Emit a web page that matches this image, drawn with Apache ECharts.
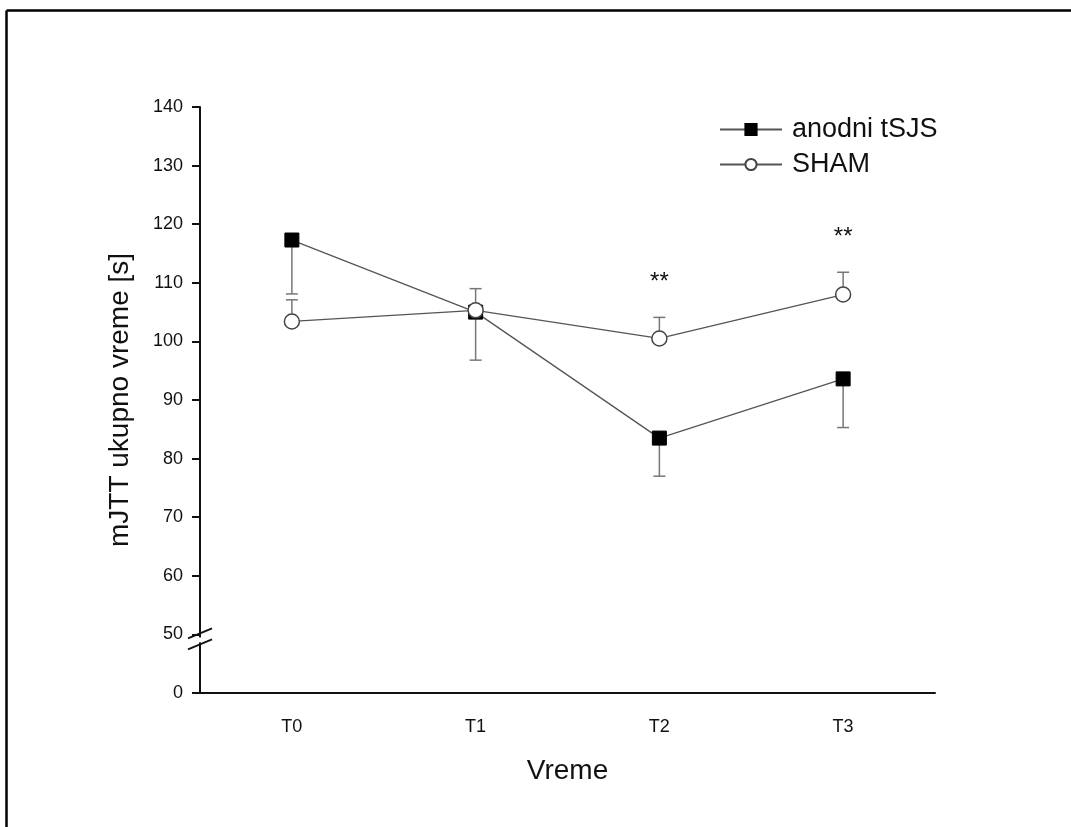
<!DOCTYPE html>
<html>
<head>
<meta charset="utf-8">
<script src="https://cdn.jsdelivr.net/npm/echarts@6/dist/echarts.min.js"></script>
<style>
html,body{margin:0;padding:0;background:#fff;}
#c{width:1071px;height:827px;}
</style>
</head>
<body>
<div id="c"></div>
<script>
const categories = ['T0', 'T1', 'T2', 'T3'];
const anodniMean = [117.3, 105.0, 83.5, 93.6];
const anodniSD = [9.2, 8.2, 6.5, 8.3];
const shamMean = [103.4, 105.3, 100.5, 108.0];
const shamSD = [3.7, 3.7, 3.6, 3.8];
const sigLabels = ['', '', '**', '**'];
const yTickLabels = {40: '0', 50: '50', 60: '60', 70: '70', 80: '80', 90: '90', 100: '100', 110: '110', 120: '120', 130: '130', 140: '140'};

const FONT = '"Liberation Sans", Arial, sans-serif';
const chart = echarts.init(document.getElementById('c'), null, {renderer: 'canvas'});

function errorBar(dir) {
  return function (params, api) {
    const x = api.value(0), y = api.value(1), sd = api.value(2);
    const p0 = api.coord([x, y]);
    const p1 = api.coord([x, y + dir * sd]);
    const half = 6;
    const style = {stroke: '#777', lineWidth: 1.5};
    return {
      type: 'group',
      children: [
        {type: 'line', shape: {x1: p0[0], y1: p0[1], x2: p1[0], y2: p1[1]}, style: style},
        {type: 'line', shape: {x1: p1[0] - half, y1: p1[1], x2: p1[0] + half, y2: p1[1]}, style: style}
      ]
    };
  };
}

const option = {
  animation: false,
  backgroundColor: '#fff',
  textStyle: {fontFamily: FONT},
  grid: {left: 200, top: 107, right: 136, bottom: 134, containLabel: false},
  legend: {
    left: 714, top: 111, orient: 'vertical',
    itemWidth: 62, itemHeight: 14, itemGap: 8,
    textStyle: {fontSize: 27, lineHeight: 27, color: '#111', fontFamily: FONT, padding: [0, 0, 0, 5]},
    data: ['anodni tSJS', 'SHAM']
  },
  xAxis: {
    type: 'category',
    data: categories,
    boundaryGap: true,
    name: 'Vreme', nameLocation: 'middle', nameGap: 64,
    nameTextStyle: {fontSize: 28, color: '#111', fontFamily: FONT},
    axisLine: {lineStyle: {color: '#111', width: 2}},
    axisTick: {alignWithLabel: true, length: 8, lineStyle: {color: '#111', width: 2}},
    axisLabel: {fontSize: 18, color: '#111', margin: 25, fontFamily: FONT},
    splitLine: {show: false}
  },
  yAxis: {
    type: 'value', min: 40, max: 140, interval: 10,
    name: 'mJTT ukupno vreme [s]', nameLocation: 'middle', nameGap: 66,
    nameTextStyle: {fontSize: 28, color: '#111', fontFamily: FONT},
    axisLine: {show: true, lineStyle: {color: '#111', width: 2}},
    axisTick: {show: true, length: 8, lineStyle: {color: '#111', width: 2}},
    axisLabel: {fontSize: 18, color: '#111', margin: 17, fontFamily: FONT,
      formatter: v => yTickLabels[v] !== undefined ? yTickLabels[v] : ''},
    splitLine: {show: false}
  },
  series: [
    {
      type: 'custom', name: 'errA', renderItem: errorBar(-1), z: 1,
      data: anodniMean.map((m, i) => [i, m, anodniSD[i]]), silent: true
    },
    {
      type: 'custom', name: 'errS', renderItem: errorBar(1), z: 1,
      data: shamMean.map((m, i) => [i, m, shamSD[i]]), silent: true
    },
    {
      type: 'line', name: 'anodni tSJS', data: anodniMean, z: 3,
      symbol: 'rect', symbolSize: 14,
      lineStyle: {color: '#555', width: 1.3},
      itemStyle: {color: '#000', borderColor: '#000', borderWidth: 1}
    },
    {
      type: 'line', name: 'SHAM', data: shamMean, z: 4,
      symbol: 'circle', symbolSize: 15,
      lineStyle: {color: '#555', width: 1.3},
      itemStyle: {color: '#fff', borderColor: '#444', borderWidth: 1.5}
    },
    {
      type: 'custom', name: 'sig', z: 5, silent: true,
      data: shamMean.map((m, i) => [i, m + shamSD[i], sigLabels[i]]),
      renderItem: function (params, api) {
        const p = api.coord([api.value(0), api.value(1)]);
        return {type: 'text', x: p[0], y: p[1] - 35,
          style: {text: sigLabels[params.dataIndex], fontSize: 24, fontFamily: FONT,
            fill: '#111', align: 'center', verticalAlign: 'middle'}};
      }
    }
  ]
};
chart.setOption(option);

// axis break marks and outer frame
const p50 = chart.convertToPixel({yAxisIndex: 0}, 50);
const axisX = 200;
chart.setOption({
  graphic: [
    {type: 'rect', shape: {x: axisX - 3, y: p50 + 3, width: 6, height: 5}, style: {fill: '#fff'}, z: 100},
    {type: 'line', shape: {x1: axisX - 12, y1: p50 + 4, x2: axisX + 12, y2: p50 - 6}, style: {stroke: '#111', lineWidth: 1.8}, z: 101},
    {type: 'line', shape: {x1: axisX - 12, y1: p50 + 15, x2: axisX + 12, y2: p50 + 5}, style: {stroke: '#111', lineWidth: 1.8}, z: 101},
    {type: 'line', shape: {x1: 6.5, y1: 10.5, x2: 1071, y2: 10.5}, style: {stroke: '#000', lineWidth: 2.5}, z: 100},
    {type: 'line', shape: {x1: 6.5, y1: 10.5, x2: 6.5, y2: 827}, style: {stroke: '#000', lineWidth: 2.5}, z: 100}
  ]
});
</script>
</body>
</html>
